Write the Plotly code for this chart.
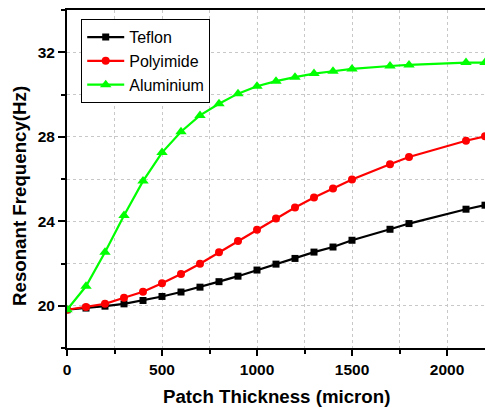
import plotly.graph_objects as go

thickness = [0, 100, 200, 300, 400, 500, 600, 700, 800, 900, 1000, 1100, 1200,
             1300, 1400, 1500, 1700, 1800, 2100, 2200]
teflon = [19.81, 19.89, 19.98, 20.09, 20.25, 20.44, 20.65, 20.88, 21.14, 21.40,
          21.69, 21.97, 22.24, 22.54, 22.78, 23.10, 23.62, 23.89, 24.57, 24.76]
polyimide = [19.81, 19.94, 20.09, 20.38, 20.66, 21.06, 21.50, 21.99, 22.53, 23.06,
             23.60, 24.13, 24.65, 25.12, 25.55, 25.98, 26.70, 27.04, 27.81, 28.02]
aluminium = [19.81, 20.92, 22.53, 24.27, 25.90, 27.25, 28.24, 29.01, 29.56, 30.04,
             30.39, 30.63, 30.82, 30.99, 31.10, 31.21, 31.35, 31.40, 31.51, 31.51]

series = [
    ("Teflon", teflon, "black", "square", 7),
    ("Polyimide", polyimide, "#ff0000", "circle", 8),
    ("Aluminium", aluminium, "#00ff00", "triangle-up", 10),
]

fig = go.Figure()
for name, vals, color, sym, size in series:
    fig.add_trace(go.Scatter(
        x=thickness, y=vals, name=name, mode="lines+markers",
        line=dict(color=color, width=2.2),
        marker=dict(symbol=sym, size=size, color=color, line=dict(width=0)),
    ))

font_family = "Liberation Sans, Arial, sans-serif"
grid_color = "#c8c8c8"

fig.update_layout(
    width=485, height=411,
    margin=dict(l=67, r=0, t=10, b=63, autoexpand=False),
    plot_bgcolor="white", paper_bgcolor="white",
    font=dict(family=font_family, color="black"),
    showlegend=True,
    legend=dict(
        x=0.034, y=0.973, xanchor="left", yanchor="top",
        bgcolor="white", bordercolor="black", borderwidth=1,
        font=dict(size=16, family=font_family, color="black"),
        tracegroupgap=0, itemwidth=37,
    ),
    xaxis=dict(
        range=[0, 2200], tick0=0, dtick=500,
        showline=True, linecolor="black", linewidth=2, mirror=True,
        ticks="outside", ticklen=6, tickwidth=2, tickcolor="black",
        tickfont=dict(size=15.5, family=font_family, color="black", weight="bold"),
        showgrid=True, gridcolor=grid_color, griddash="dot", gridwidth=1,
        zeroline=False, automargin=False,
        minor=dict(dtick=250, ticks="outside", ticklen=4, tickwidth=2,
                   tickcolor="black", showgrid=True, gridcolor=grid_color,
                   griddash="dot", gridwidth=1),
    ),
    yaxis=dict(
        range=[18, 34], tick0=20, dtick=4,
        showline=True, linecolor="black", linewidth=2, mirror=False,
        ticks="outside", ticklen=7, tickwidth=2, tickcolor="black",
        tickfont=dict(size=15.5, family=font_family, color="black", weight="bold"),
        showgrid=True, gridcolor=grid_color, griddash="dot", gridwidth=1,
        zeroline=False, automargin=False,
        minor=dict(dtick=2, ticks="outside", ticklen=4, tickwidth=2,
                   tickcolor="black", showgrid=True, gridcolor=grid_color,
                   griddash="dot", gridwidth=1),
    ),
    annotations=[
        dict(text="<b>Patch Thickness (micron)</b>", xref="paper", yref="paper",
             x=0.5, y=-(396 - 348) / 338, xanchor="center", yanchor="middle",
             showarrow=False, font=dict(size=18.7, family=font_family, color="black")),
        dict(text="<b>Resonant Frequency(Hz)</b>", xref="paper", yref="paper",
             x=-(67 - 20) / 418, y=(348 - 196) / 338, xanchor="center", yanchor="middle",
             textangle=-90, showarrow=False,
             font=dict(size=18.7, family=font_family, color="black")),
    ],
)

fig.write_html("out.html",
               config={"displayModeBar": False},
               post_script="document.body.style.margin='0';document.body.style.overflow='hidden';")
